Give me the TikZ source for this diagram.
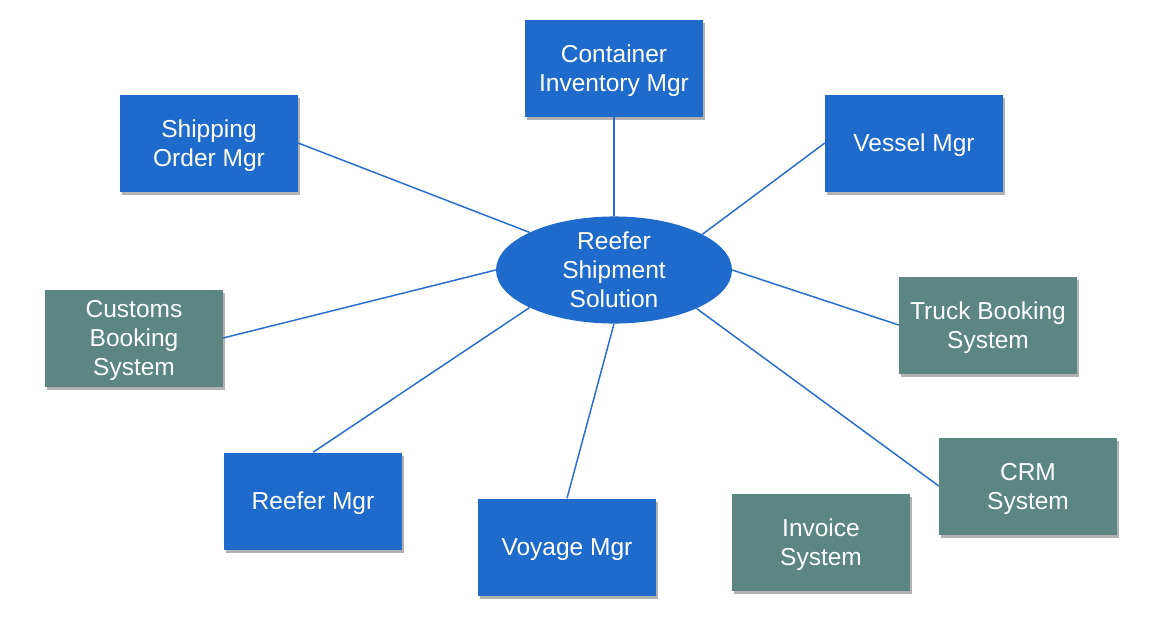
\documentclass[tikz,border=0pt]{standalone}
\usepackage{fontspec}
\setmainfont{Liberation Sans}
\usetikzlibrary{shapes.geometric,shadows}
\definecolor{boxblue}{HTML}{1F6BCC}
\definecolor{boxgreen}{HTML}{5B8682}
\definecolor{linkblue}{HTML}{2A6FCF}
\begin{document}
\begin{tikzpicture}[x=1pt,y=-1pt,
  base/.style={text=white, font=\fontsize{24.5}{29}\selectfont, align=center, inner sep=0pt, text depth=0pt},
  mgr/.style={base, rectangle, fill=boxblue, minimum width=178pt, minimum height=97pt,
    drop shadow={shadow xshift=2pt, shadow yshift=-3pt, opacity=0.3, fill=black}},
  sys/.style={mgr, fill=boxgreen},
  hub/.style={base, ellipse, fill=boxblue, minimum width=236pt, minimum height=96pt},
  link/.style={draw=linkblue, line width=1.5pt}]
\useasboundingbox (0,0) rectangle (1152,630);
\node[mgr] (container) at (614,68) {Container\\Inventory Mgr};
\node[mgr] (shipping) at (209,143) {Shipping\\Order Mgr};
\node[mgr] (vessel) at (914,143) {Vessel Mgr};
\node[sys] (customs) at (134,338) {Customs\\Booking\\System};
\node[sys] (truck) at (988,325) {Truck Booking\\System};
\node[sys] (crm) at (1028,486) {CRM\\System};
\node[sys] (invoice) at (821,542) {Invoice\\System};
\node[mgr] (voyage) at (567,547) {Voyage Mgr};
\node[mgr] (reefer) at (313,501) {Reefer Mgr};
\node[hub] (hub) at (614,270) {Reefer\\Shipment\\Solution};
\draw[link] (hub.90) -- (container.south);
\draw[link] (hub.156) -- (shipping.east);
\draw[link] (hub.22) -- (vessel.west);
\draw[link] (hub.180) -- (customs.east);
\draw[link] (hub.0) -- (truck.west);
\draw[link] (hub.335) -- (crm.west);
\draw[link] (hub.270) -- (voyage.north);
\draw[link] (hub.204) -- (reefer.north);
\end{tikzpicture}
\end{document}
